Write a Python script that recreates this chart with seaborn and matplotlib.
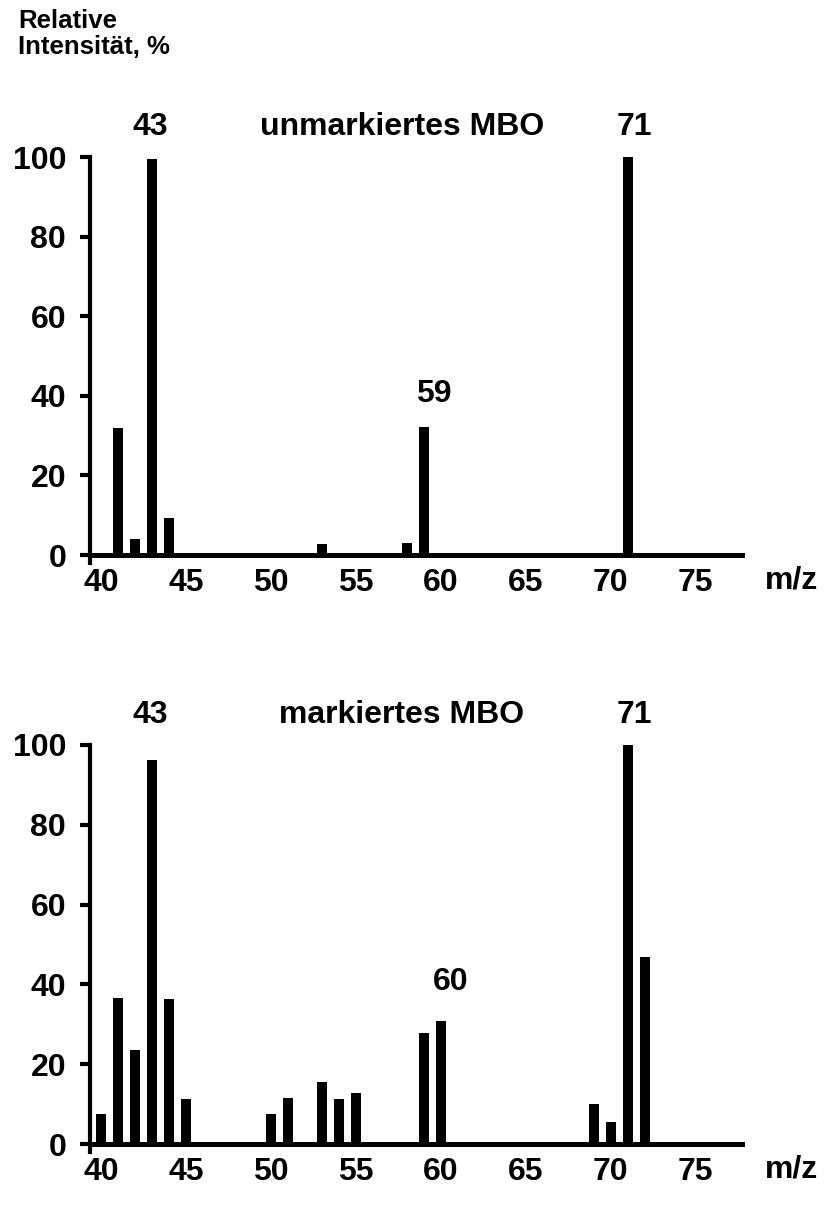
import matplotlib.pyplot as plt
import seaborn as sns

# m/z values and relative intensities (%)
mz_unmarked = [41, 42, 43, 44, 53, 58, 59, 71]
int_unmarked = [32, 4, 99.5, 9.3, 2.8, 3, 32.2, 100]

mz_marked = [40, 41, 42, 43, 44, 45, 50, 51, 53, 54, 55, 59, 60, 69, 70, 71, 72]
int_marked = [7.5, 36.5, 23.6, 96.2, 36.3, 11.3, 7.5, 11.5, 15.5, 11.3, 12.8,
              27.8, 30.9, 10, 5.5, 100, 47]

x_ticks = [40, 45, 50, 55, 60, 65, 70, 75]
y_ticks = [0, 20, 40, 60, 80, 100]

sns.set_style('white')
plt.rcParams['font.family'] = ['Liberation Sans', 'DejaVu Sans']
plt.rcParams['font.weight'] = 'bold'
plt.rcParams['text.color'] = 'black'
plt.rcParams['xtick.color'] = 'black'
plt.rcParams['ytick.color'] = 'black'

fig = plt.figure(figsize=(8.26, 12.09), dpi=100)
ax_top = fig.add_axes([0.109, 0.5343, 0.789, 0.3358])
ax_bot = fig.add_axes([0.109, 0.0471, 0.789, 0.3367])

fs = 23


def draw_panel(ax, mz, inten, title, labels):
    sns.barplot(x=mz, y=inten, native_scale=True, width=0.6, color='black',
                saturation=1, errorbar=None, linewidth=0, ax=ax)
    ax.set_xlim(39.35, 77.7)
    ax.set_ylim(-2, 100)
    ax.set_xticks(x_ticks)
    ax.set_yticks(y_ticks)
    ax.tick_params(axis='x', length=0, pad=9, labelsize=fs, labelcolor='black')
    ax.tick_params(axis='y', length=7.2, width=3, pad=10, direction='out',
                   left=True, labelsize=fs, labelcolor='black')
    for lab in ax.get_xticklabels() + ax.get_yticklabels():
        lab.set_fontweight('bold')
    for s in ['top', 'right']:
        ax.spines[s].set_visible(False)
    ax.spines['bottom'].set_position(('data', 0))
    ax.spines['bottom'].set_linewidth(3.6)
    ax.spines['left'].set_linewidth(3)
    ax.spines['bottom'].set_color('black')
    ax.spines['left'].set_color('black')
    ax.set_xlabel('')
    ax.set_ylabel('')
    ax.text(57.7, 107.5, title, ha='center', va='center', fontsize=fs,
            fontweight='bold', clip_on=False)
    for (lx, ly, txt) in labels:
        ax.text(lx, ly, txt, ha='center', va='center', fontsize=fs,
                fontweight='bold', clip_on=False)
    ax.text(80.6, -6.3, 'm/z', ha='center', va='center', fontsize=fs,
            fontweight='bold', clip_on=False)


draw_panel(ax_top, mz_unmarked, int_unmarked, 'unmarkiertes MBO',
           [(42.9, 107.5, '43'), (71.4, 107.5, '71'), (59.6, 40.5, '59')])
draw_panel(ax_bot, mz_marked, int_marked, 'markiertes MBO',
           [(42.9, 107.5, '43'), (71.4, 107.5, '71'), (60.6, 40.6, '60')])

fig.text(18 / 826, 1 - 9 / 1209, 'Relative\nIntensität, %', ha='left', va='top',
         fontsize=18.5, fontweight='bold', linespacing=1.1)

fig.savefig('out.png', dpi=100)
